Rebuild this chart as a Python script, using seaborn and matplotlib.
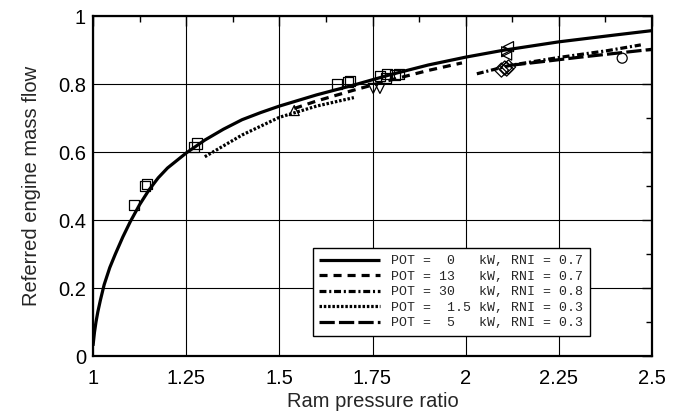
import matplotlib
matplotlib.use("Agg")
import matplotlib.pyplot as plt
import seaborn as sns
import pandas as pd
from matplotlib.ticker import FixedLocator, MultipleLocator, FuncFormatter

# ---- data ----
pot0_x = [1.0, 1.004, 1.008, 1.013, 1.02, 1.03, 1.045, 1.06, 1.08, 1.1, 1.125, 1.15, 1.175, 1.2, 1.25,
          1.3, 1.35, 1.4, 1.45, 1.5, 1.6, 1.7, 1.8, 1.9, 2.0, 2.1, 2.25, 2.4, 2.5]
pot0_y = [0.03, 0.07, 0.10, 0.13, 0.165, 0.21, 0.26, 0.30, 0.35, 0.395, 0.445, 0.488, 0.524, 0.553, 0.597,
          0.635, 0.667, 0.695, 0.716, 0.735, 0.768, 0.797, 0.828, 0.856, 0.879, 0.899, 0.924, 0.944, 0.957]

pot13_x = [1.54, 1.6, 1.7, 1.8, 1.9, 1.99]
pot13_y = [0.728, 0.75, 0.782, 0.812, 0.84, 0.862]

pot30_x = [2.03, 2.12, 2.25, 2.38, 2.47]
pot30_y = [0.83, 0.855, 0.878, 0.898, 0.915]

pot15_x = [1.3, 1.4, 1.5, 1.6, 1.7]
pot15_y = [0.586, 0.65, 0.702, 0.735, 0.76]

pot5_x = [2.12, 2.2, 2.3, 2.4, 2.5]
pot5_y = [0.855, 0.865, 0.878, 0.89, 0.902]

legend_labels = ["POT =  0   kW, RNI = 0.7",
                 "POT = 13   kW, RNI = 0.7",
                 "POT = 30   kW, RNI = 0.8",
                 "POT =  1.5 kW, RNI = 0.3",
                 "POT =  5   kW, RNI = 0.3"]

sq_x = [1.11, 1.14, 1.145, 1.27, 1.28, 1.655, 1.685, 1.69, 1.77, 1.785, 1.79, 1.81, 1.82]
sq_y = [0.445, 0.50, 0.505, 0.615, 0.625, 0.80, 0.805, 0.81, 0.824, 0.818, 0.828, 0.826, 0.83]
tri_up_x = [1.54]
tri_up_y = [0.722]
tri_dn_x = [1.752, 1.77]
tri_dn_y = [0.787, 0.787]
dia_x = [2.096, 2.105, 2.11, 2.115]
dia_y = [0.841, 0.847, 0.844, 0.85]
tri_l_x = [2.115, 2.11]
tri_l_y = [0.91, 0.885]
tri_r_x = [2.11]
tri_r_y = [0.895]
circ_x = [2.42]
circ_y = [0.876]

x_ticks = [1, 1.25, 1.5, 1.75, 2, 2.25, 2.5]
y_ticks = [0, 0.2, 0.4, 0.6, 0.8, 1]

# ---- plotting ----
sns.set_style("white")
plt.rcParams['font.family'] = ['Liberation Sans', 'DejaVu Sans']
plt.rcParams['lines.scale_dashes'] = False

fig = plt.figure(figsize=(6.74, 4.16), dpi=100)
ax = fig.add_axes([93/674, 60/416, 559/674, 340/416])

series = [
    (pot0_x, pot0_y, None),
    (pot13_x, pot13_y, (5.8, 4.3)),
    (pot30_x, pot30_y, (5.0, 2.0, 1.5, 2.0)),
    (pot15_x, pot15_y, (1.8, 1.3)),
    (pot5_x, pot5_y, (11.0, 3.0)),
]
handles = []
for (xs, ys, dash), lab in zip(series, legend_labels):
    df = pd.DataFrame({"x": xs, "y": ys})
    sns.lineplot(data=df, x="x", y="y", ax=ax, color="black", linewidth=2.3,
                 sort=False, estimator=None, legend=False)
    ln = ax.lines[-1]
    ln.set_solid_capstyle("butt")
    ln.set_solid_joinstyle("round")
    if dash is not None:
        ln.set_dashes(dash)
        ln.set_dash_capstyle("butt")
    ln.set_label(lab)
    handles.append(ln)

markers = [
    (sq_x, sq_y, "s"),
    (tri_up_x, tri_up_y, "^"),
    (tri_dn_x, tri_dn_y, "v"),
    (dia_x, dia_y, "D"),
    (tri_l_x, tri_l_y, "<"),
    (tri_r_x, tri_r_y, ">"),
    (circ_x, circ_y, "o"),
]
for xs, ys, m in markers:
    df = pd.DataFrame({"x": xs, "y": ys})
    sns.scatterplot(data=df, x="x", y="y", ax=ax, marker=m, s=52,
                    facecolor="none", edgecolor="black", linewidth=0.9, legend=False, zorder=3)

ax.set_xlim(1, 2.5)
ax.set_ylim(0, 1)
ax.xaxis.set_major_locator(FixedLocator(x_ticks))
ax.yaxis.set_major_locator(FixedLocator(y_ticks))
ax.xaxis.set_minor_locator(MultipleLocator(0.125))
ax.yaxis.set_minor_locator(MultipleLocator(0.1))
fmt = FuncFormatter(lambda v, p: ("%g" % v))
ax.xaxis.set_major_formatter(fmt)
ax.yaxis.set_major_formatter(fmt)
ax.grid(True, which="major", color="black", linewidth=0.8)
ax.tick_params(which="both", direction="in", top=True, right=True, colors="black",
               labelsize=14.5)
ax.tick_params(which="major", length=7, width=1)
ax.tick_params(which="minor", length=4, width=1)
ax.tick_params(axis="x", pad=9)
ax.tick_params(axis="y", pad=5)
for sp in ax.spines.values():
    sp.set_color("black")
    sp.set_linewidth(1.6)

ax.set_xlabel("Ram pressure ratio", fontsize=14.5, labelpad=3)
ax.set_ylabel("Referred engine mass flow", fontsize=14.5, labelpad=12)

leg = ax.legend(handles=handles, loc="lower right", bbox_to_anchor=(0.889, 0.059),
                prop={"family": "Liberation Mono", "size": 9.5},
                frameon=True, fancybox=False, edgecolor="black", framealpha=1,
                handlelength=4.6, handletextpad=0.85, borderpad=0.5, borderaxespad=0,
                labelspacing=0.25)
leg.get_frame().set_linewidth(1.0)

fig.savefig("out.png", dpi=100)
